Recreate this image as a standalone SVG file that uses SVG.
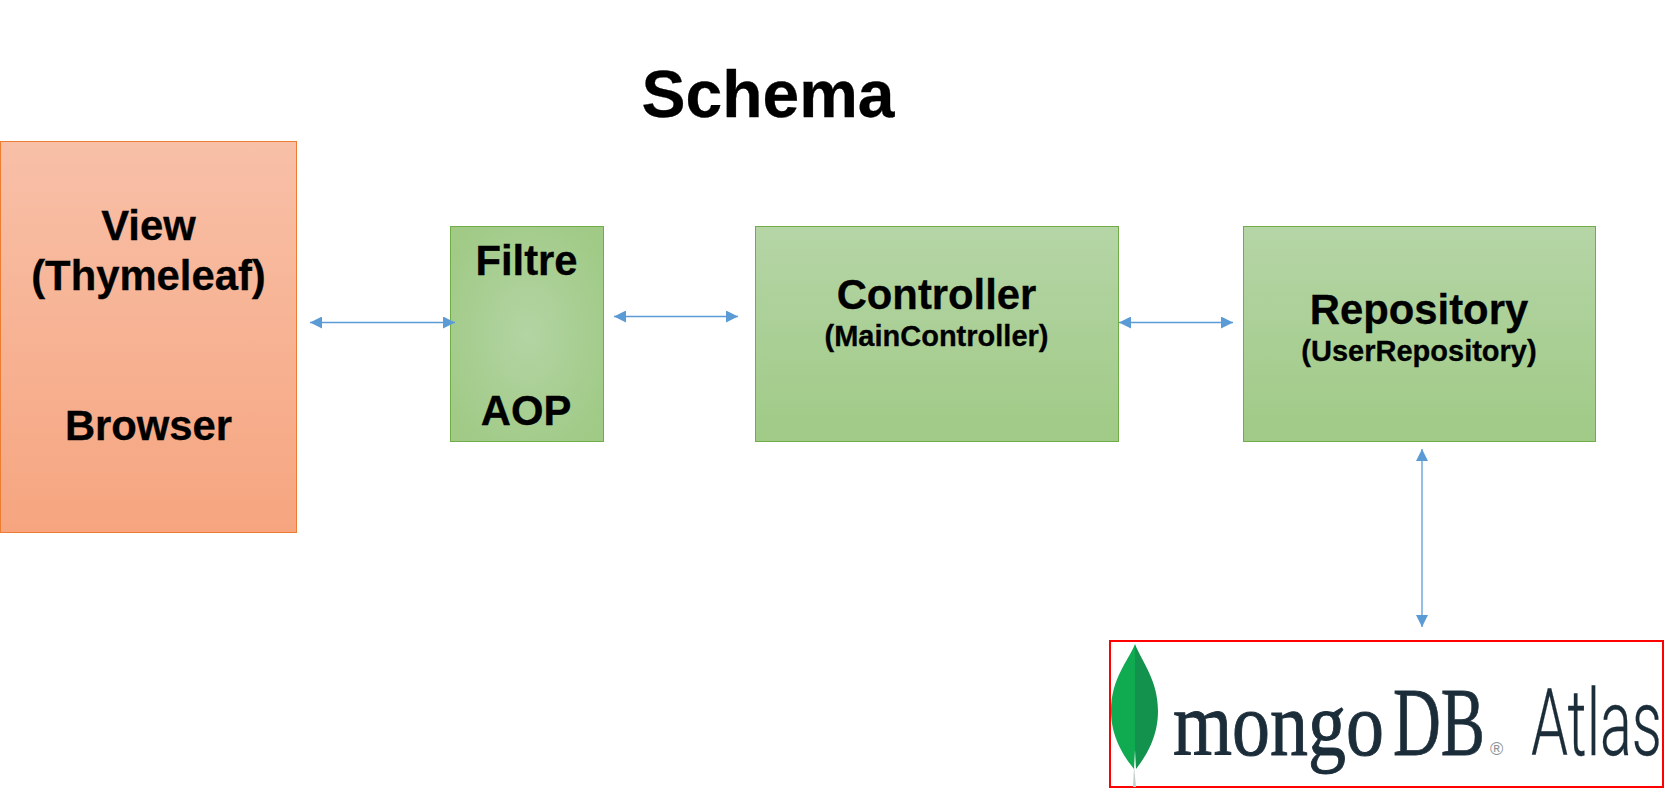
<svg xmlns="http://www.w3.org/2000/svg" width="1664" height="788" viewBox="0 0 1664 788">
<style>
text{font-family:"Liberation Sans",Arial,sans-serif;font-weight:700;fill:#000;text-anchor:middle;stroke:#000;stroke-width:.3px}
.t42{font-size:41.800px}.t29{font-size:29px}
.g{stroke:#70ad47;stroke-width:1}
.c{stroke:#5b9bd5;stroke-width:1.3;fill:none;marker-start:url(#a);marker-end:url(#a)}
text.logo{fill:#1c2d3a;stroke:#1c2d3a;font-weight:400;text-anchor:start}
</style>
<defs>
<marker id="a" viewBox="0 0 12 12" refX="12" refY="6" markerWidth="12" markerHeight="12" markerUnits="userSpaceOnUse" orient="auto-start-reverse"><path d="M0 0L12 6L0 12Z" fill="#5b9bd5"/></marker>
<linearGradient id="o" x1="0" y1="0" x2="0" y2="1"><stop offset="0" stop-color="#f8c0a8"/><stop offset="1" stop-color="#f6a57f"/></linearGradient>
<linearGradient id="gl" x1="0" y1="0" x2="0" y2="1"><stop offset="0" stop-color="#b5d5a6"/><stop offset="1" stop-color="#a0ca86"/></linearGradient>
<radialGradient id="gr" cx="0.5" cy="0.5" r="0.62"><stop offset="0" stop-color="#b3d4a3"/><stop offset="1" stop-color="#a0ca86"/></radialGradient>
</defs>
<rect width="1664" height="788" fill="#fff"/>
<text id="title" x="768" y="117" style="font-size:66px">Schema</text>
<g id="view"><rect x="0.5" y="141.5" width="296" height="391" fill="url(#o)" stroke="#ed7d31"/>
<text class="t42" x="148.500" y="240">View</text><text class="t42" x="148.500" y="290">(Thymeleaf)</text><text class="t42" x="148.500" y="440">Browser</text></g>
<g id="filtre"><rect class="g" x="450.500" y="226.500" width="153" height="215" fill="url(#gr)"/>
<text class="t42" x="526.500" y="275">Filtre</text><text class="t42" x="526" y="425">AOP</text></g>
<g id="controller"><rect class="g" x="755.500" y="226.500" width="363" height="215" fill="url(#gl)"/>
<text class="t42" x="936.500" y="309">Controller</text><text class="t29" x="936.500" y="346">(MainController)</text></g>
<g id="repository"><rect class="g" x="1243.500" y="226.500" width="352" height="215" fill="url(#gl)"/>
<text class="t42" x="1419" y="324">Repository</text><text class="t29" x="1419" y="361">(UserRepository)</text></g>
<g id="mongodb"><rect x="1110" y="641" width="553" height="146" fill="#fff" stroke="#f00" stroke-width="2"/>
<path d="M1134 766L1136 787H1133Z" fill="#c5cfce"/>
<path d="M1135 644C1129 660 1111 678 1111 711C1111 740 1127 760 1134 769L1135 750Z" fill="#10aa50"/>
<path d="M1135 644C1142 662 1158 680 1158 711C1158 740 1143 760 1136 769L1135 750Z" fill="#13924e"/>
<text class="logo" transform="translate(1173 755) scale(.844 1)" style="font-family:'Liberation Serif',serif;font-size:90px;stroke-width:1px">mongo</text>
<text class="logo" transform="translate(1393 755) scale(.676 1)" style="font-family:'Liberation Serif',serif;font-size:98px;stroke-width:.8px">DB</text>
<text class="logo" x="1490" y="755" style="font-size:18px;fill:#8a9298;stroke:none">®</text>
<text class="logo" transform="translate(1531 755) scale(.645 1)" style="font-family:Roboto,'Liberation Sans',sans-serif;font-weight:300;font-size:92px;stroke-width:.3px">Atlas</text></g>
<g id="connectors">
<line class="c" x1="310" y1="322.500" x2="455" y2="322.500"/>
<line class="c" x1="614" y1="316.500" x2="738" y2="316.500"/>
<line class="c" x1="1119" y1="322.500" x2="1233" y2="322.500"/>
<line class="c" x1="1422" y1="449" x2="1422" y2="627"/>
</g>
</svg>
